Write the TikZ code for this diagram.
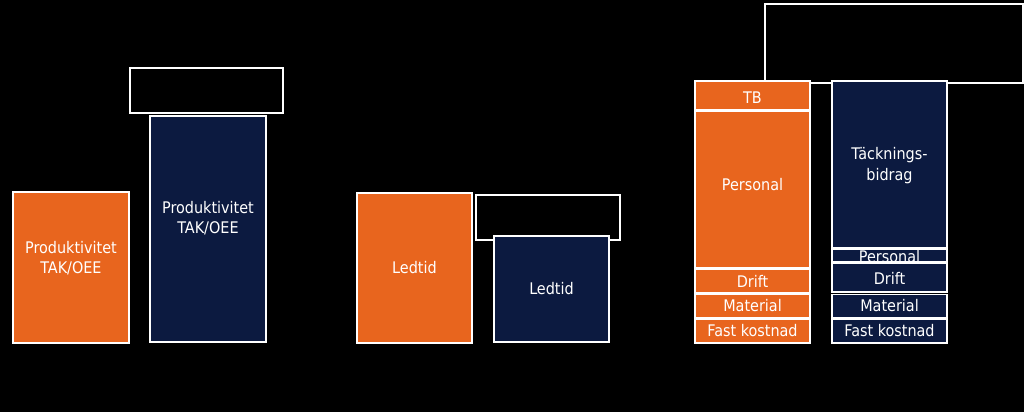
\documentclass[tikz,border=0pt]{standalone}
\usepackage{fontspec}
\setmainfont{DejaVu Sans Condensed}
\definecolor{ora}{HTML}{E8651E}
\definecolor{nav}{HTML}{0C1A40}
\begin{document}
\begin{tikzpicture}[x=1pt,y=-1pt,
  bx/.style={draw=white,line width=1.3pt,inner sep=0pt},
  obox/.style={bx,fill=ora},
  nbox/.style={bx,fill=nav},
  ebox/.style={bx,fill=black},
  txt/.style={text=white,font=\fontsize{16}{20.5}\selectfont,align=center,inner sep=0pt}]
\useasboundingbox[fill=black] (0,0) rectangle (1024,412);
% panel 1
\path[obox] (13,192) rectangle (129,343) coordinate (p1b);
\node[txt] (t1) at (71,258) {Produktivitet\\TAK/OEE};
\path[ebox] (130,68) rectangle (283,113) coordinate (e1);
\path[nbox] (150,116) rectangle (266,342) coordinate (p1n);
\node[txt] (t2) at (208,218) {Produktivitet\\TAK/OEE};
% panel 2
\path[obox] (357,193) rectangle (472,343) coordinate (p2o);
\node[txt] (t3) at (414.5,268) {Ledtid};
\path[ebox] (476,195) rectangle (620,240) coordinate (e2);
\path[nbox] (494,236) rectangle (609,342) coordinate (p2n);
\node[txt] (t4) at (551.5,289) {Ledtid};
% panel 3
\path[ebox] (765,4) rectangle (1023,83) coordinate (e3);
\path[obox] (695,81) rectangle (810,110) coordinate (oa);
\node[txt] (o1) at (752.5,98) {TB};
\path[obox] (695,111.5) rectangle (810,268) coordinate (ob);
\node[txt] (o2) at (752.5,185) {Personal};
\path[obox] (695,269.5) rectangle (810,293) coordinate (oc);
\node[txt] (o3) at (752.5,281) {Drift};
\path[obox] (695,294.5) rectangle (810,318) coordinate (od);
\node[txt] (o4) at (752.5,306) {Material};
\path[obox] (695,319.5) rectangle (810,343) coordinate (oe);
\node[txt] (o5) at (752.5,331) {Fast kostnad};
\path[nbox] (832,81) rectangle (947,248) coordinate (na);
\node[txt] (n1) at (889.5,165.5) {Täcknings-\\bidrag};
\path[fill=nav] (832,249.5) rectangle (947,262);
\begin{scope}
\clip (832,249.5) rectangle (947,262);
\node[txt] (n2) at (889.5,256.5) {Personal};
\end{scope}
\path[draw=white,line width=1.3pt] (832,249.5) rectangle (947,262) coordinate (nb);
\path[nbox] (832,263.5) rectangle (947,292) coordinate (nc);
\node[txt] (n3) at (889.5,278) {Drift};
\path[nbox] (832,294.5) rectangle (947,318) coordinate (nd);
\node[txt] (n4) at (889.5,306) {Material};
\path[nbox] (832,319.5) rectangle (947,343) coordinate (ne);
\node[txt] (n5) at (889.5,331) {Fast kostnad};
\end{tikzpicture}
\end{document}
